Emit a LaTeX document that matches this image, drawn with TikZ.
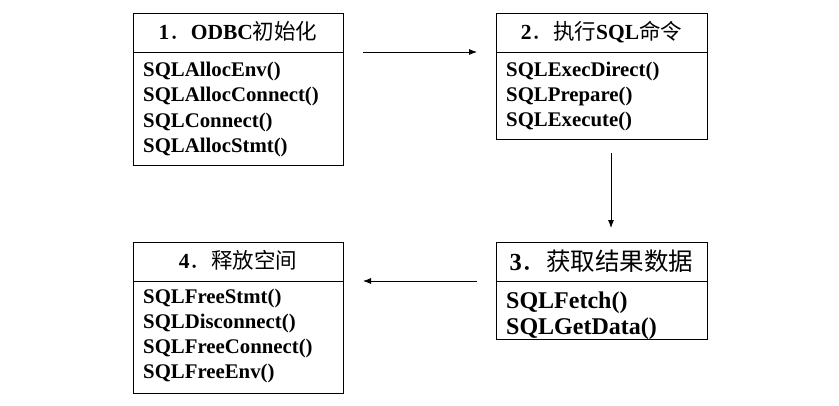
\documentclass[tikz,border=0pt]{standalone}
\usepackage{fontspec}
\setmainfont{Liberation Serif}
\newfontfamily\cjk{Noto Sans CJK SC}
\newcommand\zhtxt[1]{{\cjk\mdseries #1}}
\usetikzlibrary{arrows.meta}
\begin{document}
\begin{tikzpicture}[x=1pt,y=-1pt,
  frame/.style={draw,line width=1pt,inner sep=0pt,outer sep=0pt,anchor=north west},
  ttl/.style={anchor=base,inner sep=0pt,font=\fontsize{21.5}{26}\selectfont\bfseries},
  bigttl/.style={anchor=base,inner sep=0pt,font=\fontsize{24.5}{29}\selectfont\bfseries},
  item/.style={anchor=base west,inner sep=0pt,font=\fontsize{20.8}{25}\selectfont\bfseries},
  bigitem/.style={anchor=base west,inner sep=0pt,font=\fontsize{24}{28}\selectfont\bfseries},
  flow/.style={-{Latex[length=8pt,width=6pt]},line width=0.8pt}]
\useasboundingbox (0,0) rectangle (839,405);

% box 1
\node[frame,minimum width=210pt,minimum height=39pt] (t1) at (133,13) {};
\node[frame,minimum width=210pt,minimum height=113pt] (b1) at (133,52) {};
\node[ttl] (h1) at (t1 |- 0,39) {1\zhtxt{．}ODBC\zhtxt{初始化}};
\node[item] (l11) at (143,76) {SQLAllocEnv()};
\node[item] (l12) at (143,101.5) {SQLAllocConnect()};
\node[item] (l13) at (143,127) {SQLConnect()};
\node[item] (l14) at (143,152) {SQLAllocStmt()};

% box 2
\node[frame,minimum width=211pt,minimum height=39pt] (t2) at (496,13) {};
\node[frame,minimum width=211pt,minimum height=87pt] (b2) at (496,52) {};
\node[ttl] (h2) at (t2 |- 0,39) {2\zhtxt{．执行}SQL\zhtxt{命令}};
\node[item] (l21) at (506,76) {SQLExecDirect()};
\node[item] (l22) at (506,101) {SQLPrepare()};
\node[item] (l23) at (506,126) {SQLExecute()};

% box 3
\node[frame,minimum width=211pt,minimum height=39pt] (t3) at (496,242) {};
\node[frame,minimum width=211pt,minimum height=58pt] (b3) at (496,281) {};
\node[bigttl] (h3) at (t3 |- 0,270) {3\zhtxt{．获取结果数据}};
\node[bigitem] (l31) at (506,308) {SQLFetch()};
\node[bigitem] (l32) at (506,334) {SQLGetData()};

% box 4
\node[frame,minimum width=210pt,minimum height=39pt] (t4) at (133,242) {};
\node[frame,minimum width=210pt,minimum height=112pt] (b4) at (133,281) {};
\node[ttl] (h4) at (t4 |- 0,268) {4\zhtxt{．释放空间}};
\node[item] (l41) at (143,303) {SQLFreeStmt()};
\node[item] (l42) at (143,328) {SQLDisconnect()};
\node[item] (l43) at (143,353) {SQLFreeConnect()};
\node[item] (l44) at (143,378) {SQLFreeEnv()};

% connectors
\draw[flow] ([xshift=20pt]t1.south east) -- ([xshift=-19pt]t2.south west);
\draw[flow] ([xshift=9.5pt,yshift=-14pt]b2.south) -- ([xshift=9.5pt,yshift=14pt]t3.north);
\draw[flow] ([xshift=-19pt]t3.south west) -- ([xshift=20pt]t4.south east);
\end{tikzpicture}
\end{document}
